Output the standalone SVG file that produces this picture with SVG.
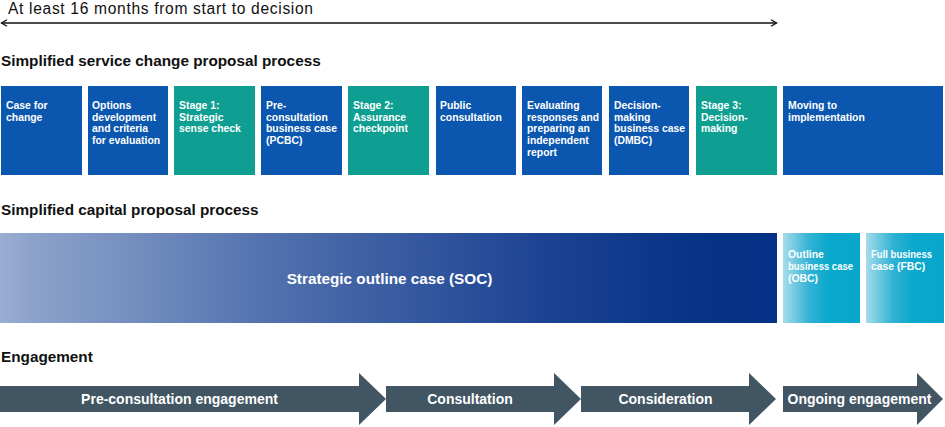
<svg xmlns="http://www.w3.org/2000/svg" width="945" height="427" viewBox="0 0 945 427">
<defs>
<style>
text{font-family:"Liberation Sans",Arial,sans-serif}
.hd{font-size:15.3px;font-weight:bold;fill:#111}
.bx{font-size:10.4px;font-weight:bold;fill:#fff}
.blue{fill:#0b57b0}
.teal{fill:#0e9f92}
.eng{fill:#425563}
.et{font-size:14px;font-weight:bold;fill:#fff;text-anchor:middle}
</style>
<linearGradient id="socg" x1="0" y1="0" x2="1" y2="0">
<stop offset="0" stop-color="#9aaed2"/>
<stop offset="0.04" stop-color="#8da3cb"/>
<stop offset="0.35" stop-color="#5170ad"/>
<stop offset="0.7" stop-color="#1c4393"/>
<stop offset="0.9" stop-color="#063386"/>
<stop offset="1" stop-color="#043185"/>
</linearGradient>
<linearGradient id="cyg" x1="0" y1="0" x2="1" y2="0">
<stop offset="0" stop-color="#a6dcea"/>
<stop offset="0.35" stop-color="#2fb2d4"/>
<stop offset="0.6" stop-color="#0aa8cc"/>
<stop offset="1" stop-color="#08a6cb"/>
</linearGradient>
<marker id="hd" viewBox="-8 -5 10 10" markerWidth="10" markerHeight="10" refX="0" refY="0" orient="auto-start-reverse" markerUnits="userSpaceOnUse">
<path d="M-5.5,-3.2 L0,0 L-5.5,3.2" fill="none" stroke="#111" stroke-width="1.3"/>
</marker>
</defs>

<text x="8" y="14" textLength="305" lengthAdjust="spacing" style="font-size:15.6px;fill:#111">At least 16 months from start to decision</text>

<g id="connectors">
<line x1="1.5" y1="23" x2="776.5" y2="23" stroke="#111" stroke-width="1.4" marker-start="url(#hd)" marker-end="url(#hd)"/>
</g>

<text class="hd" x="1" y="66">Simplified service change proposal process</text>

<g id="n1"><rect class="blue" x="1" y="86" width="81" height="89"/>
<text class="bx"><tspan x="6" y="109">Case for</tspan><tspan x="6" y="120.7">change</tspan></text></g>
<g id="n2"><rect class="blue" x="88" y="86" width="80" height="89"/>
<text class="bx"><tspan x="92" y="109">Options</tspan><tspan x="92" y="120.7">development</tspan><tspan x="92" y="132.4">and criteria</tspan><tspan x="92" y="144.1">for evaluation</tspan></text></g>
<g id="n3"><rect class="teal" x="174" y="86" width="81" height="89"/>
<text class="bx"><tspan x="179" y="109">Stage 1:</tspan><tspan x="179" y="120.7">Strategic</tspan><tspan x="179" y="132.4">sense check</tspan></text></g>
<g id="n4"><rect class="blue" x="261" y="86" width="81" height="89"/>
<text class="bx"><tspan x="266" y="109">Pre-</tspan><tspan x="266" y="120.7">consultation</tspan><tspan x="266" y="132.4" textLength="71" lengthAdjust="spacingAndGlyphs">business case</tspan><tspan x="266" y="144.1">(PCBC)</tspan></text></g>
<g id="n5"><rect class="teal" x="348" y="86" width="81" height="89"/>
<text class="bx"><tspan x="353" y="109">Stage 2:</tspan><tspan x="353" y="120.7">Assurance</tspan><tspan x="353" y="132.4">checkpoint</tspan></text></g>
<g id="n6"><rect class="blue" x="436" y="86" width="80" height="89"/>
<text class="bx"><tspan x="440" y="109">Public</tspan><tspan x="440" y="120.7">consultation</tspan></text></g>
<g id="n7"><rect class="blue" x="522" y="86" width="80" height="89"/>
<text class="bx"><tspan x="527" y="109">Evaluating</tspan><tspan x="527" y="120.7" textLength="72" lengthAdjust="spacingAndGlyphs">responses and</tspan><tspan x="527" y="132.4">preparing an</tspan><tspan x="527" y="144.1">independent</tspan><tspan x="527" y="155.8">report</tspan></text></g>
<g id="n8"><rect class="blue" x="609" y="86" width="80" height="89"/>
<text class="bx"><tspan x="614" y="109">Decision-</tspan><tspan x="614" y="120.7">making</tspan><tspan x="614" y="132.4" textLength="71" lengthAdjust="spacingAndGlyphs">business case</tspan><tspan x="614" y="144.1">(DMBC)</tspan></text></g>
<g id="n9"><rect class="teal" x="696" y="86" width="81" height="89"/>
<text class="bx"><tspan x="701" y="109">Stage 3:</tspan><tspan x="701" y="120.7">Decision-</tspan><tspan x="701" y="132.4">making</tspan></text></g>
<g id="n10"><rect class="blue" x="783" y="86" width="160" height="89"/>
<text class="bx"><tspan x="788" y="109">Moving to</tspan><tspan x="788" y="120.7">implementation</tspan></text></g>

<text class="hd" x="1" y="214.5">Simplified capital proposal process</text>

<g id="soc"><rect x="0" y="233" width="777" height="90" fill="url(#socg)"/>
<text x="389.5" y="284" text-anchor="middle" style="font-size:15.3px;font-weight:bold;fill:#fff">Strategic outline case (SOC)</text></g>
<g id="obc"><rect x="783" y="233" width="77" height="90" fill="url(#cyg)"/>
<text class="bx"><tspan x="788" y="257.5">Outline</tspan><tspan x="788" y="269.5" textLength="65" lengthAdjust="spacingAndGlyphs">business case</tspan><tspan x="788" y="281.5">(OBC)</tspan></text></g>
<g id="fbc"><rect x="866" y="233" width="78" height="90" fill="url(#cyg)"/>
<text class="bx"><tspan x="871" y="257.5" textLength="61" lengthAdjust="spacingAndGlyphs">Full business</tspan><tspan x="871" y="269.5">case (FBC)</tspan></text></g>

<text class="hd" x="1" y="362">Engagement</text>

<g id="e1"><polygon class="eng" points="0,386 359,386 359,373 386,399 359,425 359,412 0,412"/>
<text class="et" x="179.5" y="404">Pre-consultation engagement</text></g>
<g id="e2"><polygon class="eng" points="386,386 554,386 554,373 581,399 554,425 554,412 386,412"/>
<text class="et" x="470" y="404">Consultation</text></g>
<g id="e3"><polygon class="eng" points="581,386 749,386 749,373 776,399 749,425 749,412 581,412"/>
<text class="et" x="665.5" y="404">Consideration</text></g>
<g id="e4"><polygon class="eng" points="783,386 917,386 917,373 943,399 917,425 917,412 783,412"/>
<text class="et" x="859.5" y="404">Ongoing engagement</text></g>
</svg>
